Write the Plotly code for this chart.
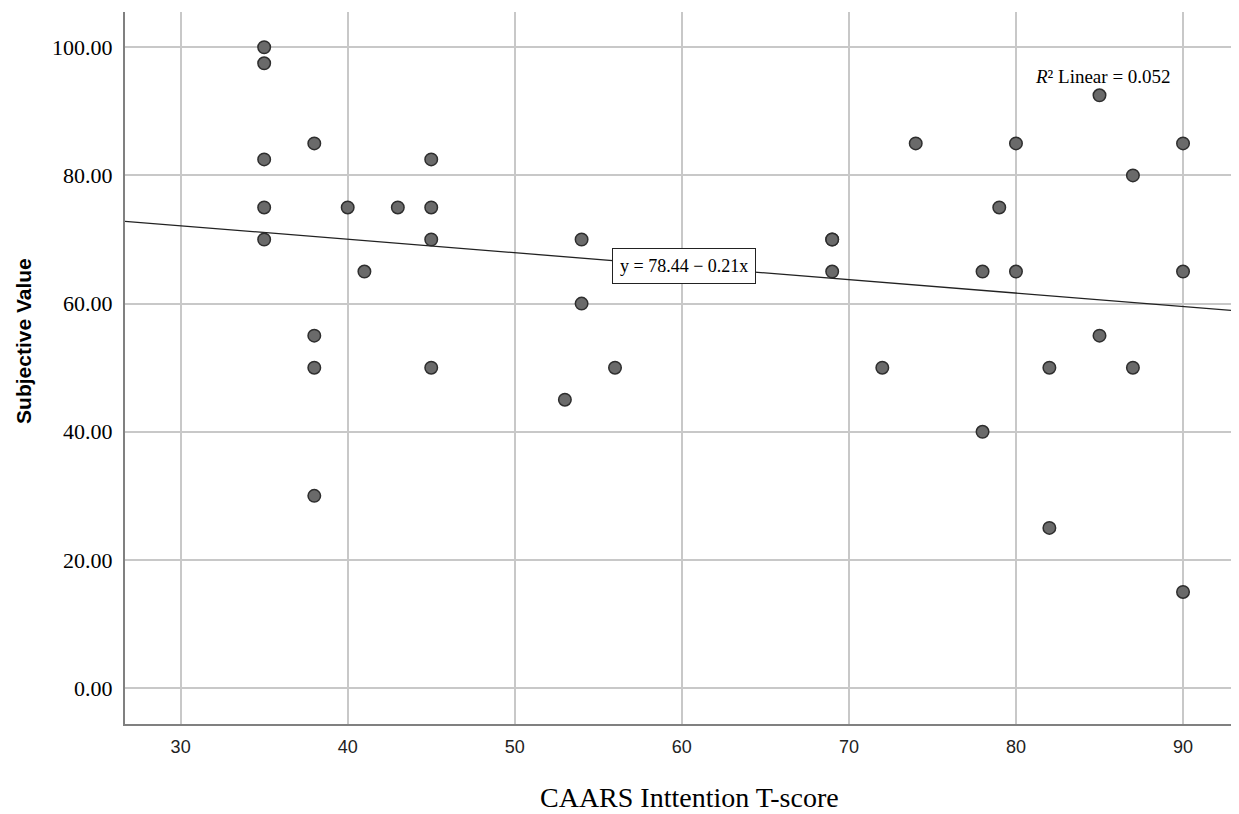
import plotly.graph_objects as go

x_vals = [35, 35, 35, 35, 35,
          38, 38, 38, 38,
          40, 41, 43,
          45, 45, 45, 45,
          53, 54, 54, 56,
          69, 69, 69,
          72, 74, 78, 78, 79, 80, 80,
          82, 82, 85, 85, 87, 87,
          90, 90, 90]
y_vals = [100, 97.5, 82.5, 75, 70,
          85, 55, 50, 30,
          75, 65, 75,
          82.5, 75, 70, 50,
          45, 70, 60, 50,
          70, 70, 65,
          50, 85, 65, 40, 75, 85, 65,
          50, 25, 92.5, 55, 80, 50,
          85, 65, 15]
intercept = 78.44
slope = -0.21
r2 = 0.052
x_range = [26.67, 93.35]
y_range = [-5.6, 105.5]
x_ticks = [30, 40, 50, 60, 70, 80, 90]
y_ticks = [0, 20, 40, 60, 80, 100]

fig = go.Figure()
fig.add_trace(go.Scatter(
    x=x_range, y=[intercept + slope * v for v in x_range],
    mode="lines", line=dict(color="#222222", width=1.3),
    showlegend=False, hoverinfo="skip"))
fig.add_trace(go.Scatter(
    x=x_vals, y=y_vals, mode="markers",
    marker=dict(size=12.5, color="#6a6a6a", line=dict(color="#2e2e2e", width=1.5)),
    showlegend=False))

fig.add_annotation(
    x=60.1, y=65.9, xref="x", yref="y",
    text=f"y = {intercept:.2f} \u2212 {abs(slope):.2f}x",
    showarrow=False, bgcolor="white", bordercolor="#222222", borderwidth=1,
    borderpad=7, font=dict(family="Liberation Serif", size=18, color="black"))
fig.add_annotation(
    x=85.2, y=95.5, xref="x", yref="y",
    text=f"<i>R</i>\u00b2 Linear = {r2:.3f}",
    showarrow=False, font=dict(family="Liberation Serif", size=19, color="black"))

# axis titles
fig.add_annotation(
    x=0.507, y=0, xref="paper", yref="paper", yshift=-73,
    xanchor="center", yanchor="middle",
    text="CAARS Inttention T-score", showarrow=False,
    font=dict(family="Liberation Serif", size=28, color="black"))
fig.add_annotation(
    x=0, y=0.538, xref="paper", yref="paper", xshift=-101,
    xanchor="center", yanchor="middle",
    text="<b>Subjective Value</b>", textangle=-90, showarrow=False,
    font=dict(family="Liberation Sans", size=21, color="black"))

fig.update_layout(
    width=1231, height=806,
    margin=dict(l=117, r=0, t=4, b=90),
    plot_bgcolor="white", paper_bgcolor="white",
)
fig.update_xaxes(
    range=x_range, tickvals=x_ticks, showgrid=True, gridcolor="#c8c8c8", gridwidth=1.8,
    showline=True, linecolor="#808080", linewidth=2, zeroline=False,
    tickfont=dict(family="Liberation Sans", size=18, color="#222222"),
    ticks="outside", ticklen=5, tickcolor="rgba(0,0,0,0)")
fig.update_yaxes(
    range=y_range, tickvals=y_ticks, tickformat=".2f", showgrid=True,
    gridcolor="#c8c8c8", gridwidth=1.8,
    showline=True, linecolor="#808080", linewidth=2, zeroline=False,
    tickfont=dict(family="Liberation Serif", size=22, color="black"),
    ticks="outside", ticklen=6, tickcolor="rgba(0,0,0,0)")

fig.write_html("out.html")
